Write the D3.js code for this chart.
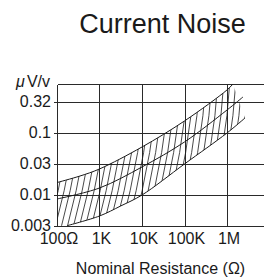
<!DOCTYPE html>
<html>
<head>
<meta charset="utf-8">
<script src="https://cdn.jsdelivr.net/npm/d3@7"></script>
<style>
  html, body { margin: 0; padding: 0; background: #fff; }
  svg { display: block; font-family: "Liberation Sans", Arial, sans-serif; }
</style>
</head>
<body>
<svg id="chart" width="264" height="280"></svg>
<script>
// ---- data ----
const xTickValues = [100, 1e3, 1e4, 1e5, 1e6];
const xTickLabels = ["100Ω", "1K", "10K", "100K", "1M"];
const yTickValues = [0.00316, 0.01, 0.0316, 0.1, 0.316];
const yTickLabels = ["0.003", "0.01", "0.03", "0.1", "0.32"];
const yMin = 0.00316, yMax = 0.61;

const resUpper   = [100, 347, 1000, 1e4, 1e5, 1e6, 1.38e6];
const noiseUpper = [0.0157, 0.0200, 0.0260, 0.0588, 0.1546, 0.489, 0.61];
const resMiddle   = [100, 1000, 1e4, 1e5, 1e6, 2.38e6];
const noiseMiddle = [0.00853, 0.01282, 0.0280, 0.0708, 0.232, 0.377];
const resLower   = [172, 1000, 3162, 1e4, 1e5, 1e6, 2.65e6];
const noiseLower = [0.00316, 0.00453, 0.00658, 0.00988, 0.0313, 0.0989, 0.1726];

const title = "Current Noise";
const yUnit = "V/v";
const xTitle = "Nominal Resistance (Ω)";

// ---- layout ----
const W = 264, H = 280;
const svg = d3.select("#chart");
const x = d3.scaleLog().domain([100, 1e6]).range([57, 227]);
const y = d3.scaleLog().domain([yMin, yMax]).range([225.7, 84]);
const px = v => Math.round(x(v)) + 0.5;
const py = v => Math.round(y(v)) + 0.5;
const ink = "#1a1a1a";

// title
svg.append("text").attr("x", 162.5).attr("y", 32.5).attr("text-anchor", "middle")
  .attr("font-size", 27).attr("fill", ink).text(title);

// y unit label
const u = svg.append("text").attr("x", 50).attr("y", 87).attr("text-anchor", "end")
  .attr("font-size", 16).attr("fill", ink);
u.append("tspan").attr("font-style", "italic").text("μ");
u.append("tspan").attr("dx", 2).text(yUnit);

// grid
const g = svg.append("g").attr("stroke", "#2a2a2a").attr("stroke-width", 1)
  .attr("shape-rendering", "crispEdges").attr("fill", "none");
g.append("line").attr("x1", px(100)).attr("x2", W + 5).attr("y1", py(yMax)).attr("y2", py(yMax));
g.selectAll(".hg").data(yTickValues).join("line")
  .attr("x1", px(100) - 4).attr("x2", W + 5)
  .attr("y1", d => py(d)).attr("y2", d => py(d));
g.selectAll(".vg").data(xTickValues).join("line")
  .attr("x1", d => px(d)).attr("x2", d => px(d))
  .attr("y1", py(yMax)).attr("y2", py(yMin));

// y tick labels
svg.selectAll(".yl").data(yTickValues).join("text")
  .attr("x", 51).attr("y", d => y(d)).attr("dy", "0.36em")
  .attr("text-anchor", "end").attr("font-size", 16).attr("fill", ink)
  .text((d, i) => yTickLabels[i]);

// x tick labels
svg.selectAll(".xl").data(xTickValues).join("text")
  .attr("x", d => x(d) + 2).attr("y", 243.5)
  .attr("text-anchor", "middle").attr("font-size", 16).attr("fill", ink)
  .text((d, i) => xTickLabels[i]);

// x title
svg.append("text").attr("x", 160.5).attr("y", 274).attr("text-anchor", "middle")
  .attr("font-size", 16).attr("fill", ink).text(xTitle);

// curves
const pts = (rs, ns) => rs.map((r, i) => [x(r), y(ns[i])]);
const upperPts = pts(resUpper, noiseUpper);
const middlePts = pts(resMiddle, noiseMiddle);
const lowerPts = pts(resLower, noiseLower);
const line = d3.line().curve(d3.curveCatmullRom.alpha(0.5));

// hatch clip region between upper and lower curves
const upperD = line(upperPts);
const lowerRevD = line(lowerPts.slice().reverse()).replace(/^M/, "L");
const clipD = upperD + lowerRevD + `L${x(100)},${y(yMin)}Z`;
svg.append("defs").append("clipPath").attr("id", "band")
  .append("path").attr("d", clipD);

const hatch = svg.append("g").attr("clip-path", "url(#band)")
  .attr("stroke", ink).attr("stroke-width", 0.8).attr("fill", "none");
const slant = 0.17;
hatch.selectAll("path").data(d3.range(56, 268, 6)).join("path")
  .attr("d", d => `M${d},80 Q${d - 4},150 ${d - slant * 150},230`);

const curves = svg.append("g").attr("stroke", ink).attr("stroke-width", 1).attr("fill", "none");
[upperPts, middlePts, lowerPts].forEach(p => curves.append("path").attr("d", line(p)));
</script>
</body>
</html>
